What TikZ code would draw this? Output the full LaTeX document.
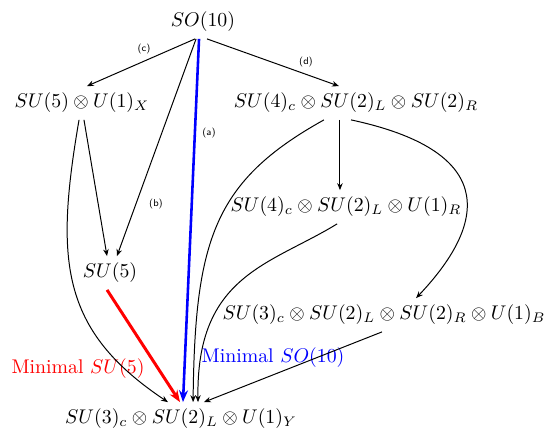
\documentclass[tikz,border=0pt]{standalone}
\usepackage{amsmath,amssymb}
\usepackage{tikz}
\usetikzlibrary{arrows.meta,positioning}

\begin{document}
\begin{tikzpicture}[
    x=0.505pt, y=-0.505pt,
    grp/.style={inner sep=0.333em},
    lbl/.style={font=\sffamily\tiny},
    brk/.style={-{Stealth[length=3.5pt,width=2.8pt]}, line width=0.5pt},
    redarr/.style={-{Stealth[length=6pt,width=4.5pt]}, line width=1.5pt, red},
    bluearr/.style={-{Stealth[length=6pt,width=4.5pt]}, line width=1.3pt, blue}
]
\useasboundingbox (0,0) rectangle (548,432);

\node[grp] (SO) at (203,22) {$SO(10)$};
\node[grp] (SUfX) at (82,103) {$SU(5)\otimes U(1)_X$};
\node[grp] (PS) at (356,103) {$SU(4)_c\otimes SU(2)_L\otimes SU(2)_R$};
\node[grp] (PSR) at (346,207) {$SU(4)_c\otimes SU(2)_L\otimes U(1)_R$};
\node[grp] (SUf) at (110,273) {$SU(5)$};
\node[grp] (LR) at (384,315) {$SU(3)_c\otimes SU(2)_L\otimes SU(2)_R\otimes U(1)_B$};
\node[grp] (SM) at (181,419) {$SU(3)_c\otimes SU(2)_L\otimes U(1)_Y$};

\node[lbl] (la) at (209,133) {(a)};
\node[lbl] (lb) at (156,204) {(b)};
\node[lbl] (lc) at (144,49) {(c)};
\node[lbl] (ld) at (306,62) {(d)};
\node[text=red] (minsu) at (78,369) {Minimal $SU(5)$};
\node[text=blue] (minso) at (273,358) {Minimal $SO(10)$};

% from SO(10)
\draw[brk] ([xshift=-4pt]SO.south) -- ([xshift=2.5pt]SUfX.north);
\draw[brk] ([xshift=2pt]SO.south) -- ([xshift=-8.6pt]PS.north);
\draw[brk] ([xshift=-3.5pt]SO.south) -- ([xshift=3.5pt]SUf.north);

% SU(5) x U(1)
\draw[brk] ([xshift=1pt]SUfX.south) -- ([xshift=-1.5pt]SUf.north);
\draw[brk] ([xshift=-1.5pt]SUfX.south) .. controls (55,260) and (60,330) .. ([xshift=-6.6pt]SM.north);

% Pati-Salam
\draw[brk] ([xshift=-8.1pt]PS.south) -- ([xshift=-8.1pt]PS.south |- PSR.north);
\draw[brk] ([xshift=-16.2pt]PS.south) .. controls (214,181) and (195,240) .. ([xshift=6.1pt]SM.north);
\draw[brk] ([xshift=-2.5pt]PS.south) .. controls (492,150) and (492,218) .. ([xshift=16.2pt]LR.north);
\draw[brk] ([xshift=-4.5pt]PSR.south) .. controls (270,265) and (196,275) .. ([xshift=8.6pt]SM.north);
\draw[brk] ([xshift=-1pt]LR.south) -- ([xshift=11.6pt]SM.north);

% minimal models
\draw[redarr] ([xshift=-1.5pt]SUf.south) -- ([xshift=-0.5pt]SM.north);
\draw[bluearr] ([xshift=-2pt]SO.south) -- ([xshift=1pt]SM.north);
\end{tikzpicture}
\end{document}
